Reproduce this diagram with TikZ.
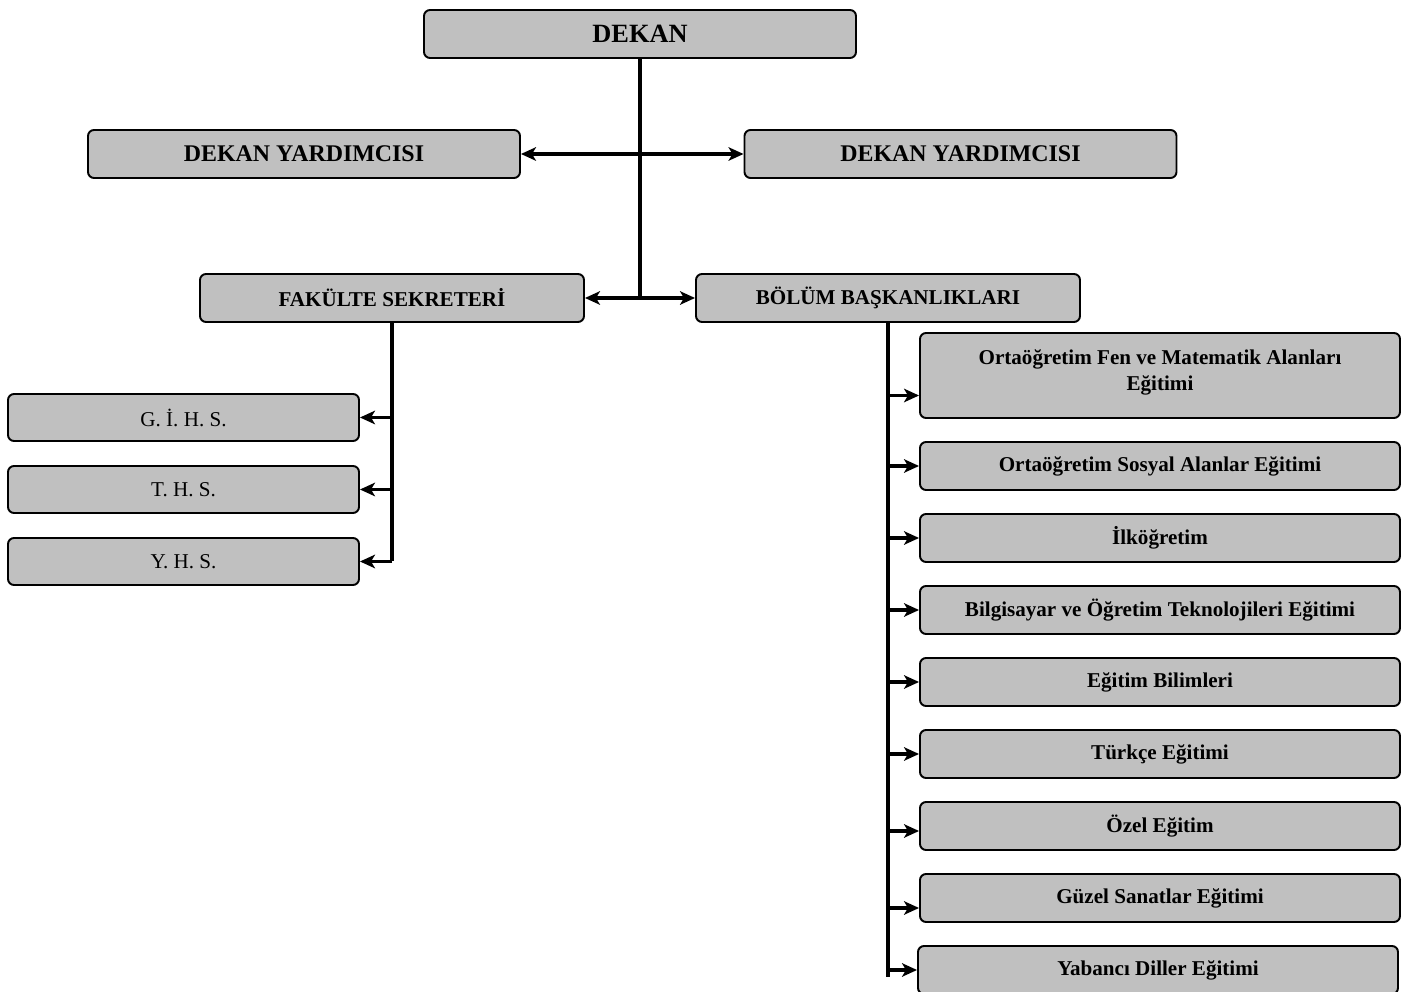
\documentclass[tikz,border=0pt]{standalone}
\usepackage{fontspec}
\setmainfont{Liberation Serif}
\usetikzlibrary{arrows.meta}
\definecolor{boxgray}{HTML}{C0C0C0}
\tikzset{
	unitbox/.style={draw=black, line width=1.1pt, fill=boxgray, rounded corners=0.12cm, inner sep=0pt, align=center, font=\bfseries\fontsize{12}{14}\selectfont},
	link/.style={line width=2.2pt},
	branch/.style={line width=1.8pt, ->},
}

\begin{document}
\begin{tikzpicture}[>={Stealth[length=0.3cm, width=0.27cm, inset=0.08cm]}]
			%%%%% START %%%%%
			\path[use as bounding box, clip] (0, 0) rectangle (28.16, -19.84);
			
			\node[unitbox, minimum width=8.64cm, minimum height=0.96cm, font=\bfseries\fontsize{15}{18}\selectfont] (dekan) at (12.8, -0.68) {DEKAN};
			\node[unitbox, minimum width=8.64cm, minimum height=0.96cm, font=\bfseries\fontsize{13.6}{16}\selectfont] (dyl) at (6.08, -3.08) {DEKAN YARDIMCISI};
			\node[unitbox, minimum width=8.64cm, minimum height=0.96cm, font=\bfseries\fontsize{13.6}{16}\selectfont] (dyr) at (19.21, -3.08) {DEKAN YARDIMCISI};
			
			\node[unitbox, minimum width=7.68cm, minimum height=0.96cm] (fs) at (7.84, -5.96) {FAKÜLTE SEKRETERİ};
			\node[unitbox, minimum width=7.68cm, minimum height=0.96cm] (bb) at (17.76, -5.96) {BÖLÜM BAŞKANLIKLARI};
			
			\node[unitbox, minimum width=7.02cm, minimum height=0.94cm, font=\fontsize{12}{14}\selectfont] (gihs) at (3.67, -8.35) {G. İ. H. S.};
			\node[unitbox, minimum width=7.02cm, minimum height=0.94cm, font=\fontsize{12}{14}\selectfont] (ths) at (3.67, -9.79) {T. H. S.};
			\node[unitbox, minimum width=7.02cm, minimum height=0.94cm, font=\fontsize{12}{14}\selectfont] (yhs) at (3.67, -11.23) {Y. H. S.};
			
			\node[unitbox, minimum width=9.6cm, minimum height=1.7cm, font=\bfseries\fontsize{12}{14.8}\selectfont] (d1) at (23.2, -7.51) {Ortaöğretim Fen ve Matematik Alanları\\Eğitimi\\[-0.32cm]};
			\node[unitbox, minimum width=9.6cm, minimum height=0.96cm] (d2) at (23.2, -9.32) {Ortaöğretim Sosyal Alanlar Eğitimi};
			\node[unitbox, minimum width=9.6cm, minimum height=0.96cm] (d3) at (23.2, -10.76) {İlköğretim};
			\node[unitbox, minimum width=9.6cm, minimum height=0.96cm] (d4) at (23.2, -12.2) {Bilgisayar ve Öğretim Teknolojileri Eğitimi};
			\node[unitbox, minimum width=9.6cm, minimum height=0.96cm] (d5) at (23.2, -13.64) {Eğitim Bilimleri};
			\node[unitbox, minimum width=9.6cm, minimum height=0.96cm] (d6) at (23.2, -15.08) {Türkçe Eğitimi};
			\node[unitbox, minimum width=9.6cm, minimum height=0.96cm] (d7) at (23.2, -16.52) {Özel Eğitim};
			\node[unitbox, minimum width=9.6cm, minimum height=0.96cm] (d8) at (23.2, -17.96) {Güzel Sanatlar Eğitimi};
			\node[unitbox, minimum width=9.6cm, minimum height=0.96cm] (d9) at (23.16, -19.4) {Yabancı Diller Eğitimi};
			
			% dekan spine
			\draw[link] (dekan.south) -- (dekan |- fs);
			\draw[link, <->] (dyl) -- (dyr);
			\draw[link, <->] (fs) -- (bb);
			
			% sekreterlik
			\draw[link] (fs.south) -- (fs |- yhs);
			\draw[branch] (fs |- gihs) -- (gihs);
			\draw[branch] (fs |- ths) -- (ths);
			\draw[branch] (fs |- yhs) -- (yhs);
			
			% bolumler
			\coordinate (bbend) at (17.76, -19.54);
			\coordinate (t1) at ([yshift=-0.4cm]d1.west);
			\coordinate (t7) at ([yshift=-0.1cm]d7.west);
			\coordinate (t8) at ([yshift=-0.2cm]d8.west);
			\draw[link] (bb.south) -- (bbend);
			\draw[branch] (t1 -| bbend) -- (t1);
			\draw[branch] (d2.west -| bbend) -- (d2.west);
			\draw[branch] (d3.west -| bbend) -- (d3.west);
			\draw[branch] (d4.west -| bbend) -- (d4.west);
			\draw[branch] (d5.west -| bbend) -- (d5.west);
			\draw[branch] (d6.west -| bbend) -- (d6.west);
			\draw[branch] (t7 -| bbend) -- (t7);
			\draw[branch] (t8 -| bbend) -- (t8);
			\draw[branch] (d9.west -| bbend) -- (d9.west);
			
			%%%%% END %%%%%
\end{tikzpicture}
\end{document}
